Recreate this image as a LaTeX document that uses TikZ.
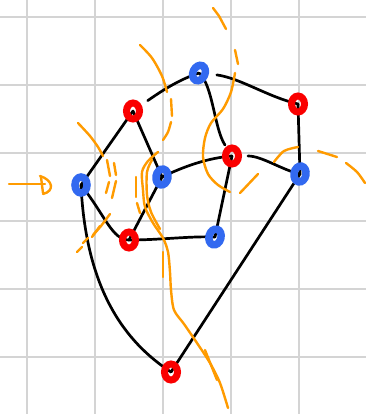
\documentclass[tikz,border=0pt]{standalone}
\usetikzlibrary{shapes.geometric}
\pgfdeclarelayer{gridlayer}
\pgfdeclarelayer{edgelayer}
\pgfsetlayers{gridlayer,edgelayer,main}
\definecolor{gridgray}{RGB}{212,212,212}
\definecolor{vred}{RGB}{250,0,0}
\definecolor{vblue}{RGB}{50,105,240}
\definecolor{sketchorange}{RGB}{255,155,0}
\begin{document}
\begin{tikzpicture}[x=1pt,y=-1pt,
  redv/.style={ellipse, draw=vred, line width=7pt, minimum width=13pt, minimum height=16pt, inner sep=0pt},
  bluev/.style={ellipse, draw=vblue, line width=7.5pt, minimum width=12pt, minimum height=16pt, inner sep=0pt},
  edgeline/.style={black, line width=2.7pt, line cap=round, line join=round},
  sk/.style={sketchorange, line width=2.4pt, line cap=round, line join=round},
  gridline/.style={gridgray, line width=2pt}]
\useasboundingbox (0,0) rectangle (366,414);
\begin{pgfonlayer}{gridlayer}
  \fill[white] (0,0) rectangle (366,414);
  \foreach \gx in {27,95,163,231,299} \draw[gridline] (\gx,0) -- (\gx,414);
  \foreach \gy in {17,85,153,221,289,357} \draw[gridline] (0,\gy) -- (366,\gy);
\end{pgfonlayer}

% vertices
\node[bluev]            (A) at (81,185) {};
\node[redv]             (B) at (133,111) {};
\node[bluev,rotate=-25] (C) at (199,73) {};
\node[redv]             (D) at (298,104) {};
\node[bluev,rotate=-10] (E) at (162,177) {};
\node[redv]             (F) at (232,156) {};
\node[bluev,rotate=-10] (G) at (300,174) {};
\node[redv]             (H) at (129,240) {};
\node[bluev,rotate=-15] (I) at (215,237) {};
\node[redv]             (J) at (171,372) {};

\begin{pgfonlayer}{edgelayer}
  % edges
  \draw[edgeline] (A.center) -- (B.center);
  \draw[edgeline, shorten <=18pt] (B.center) .. controls (160,92) and (178,80) .. (C.center);
  \draw[edgeline, shorten >=13pt] (C.center) .. controls (213,85) and (214,128) .. (F.center);
  \draw[edgeline, shorten <=8pt] (C.20) .. controls (240,78) and (268,97) .. (D.center);
  \draw[edgeline] (D.center) -- (G.center);
  \draw[edgeline, shorten <=16pt] (F.center) .. controls (262,156) and (282,170) .. (G.center);
  \draw[edgeline] (E.center) .. controls (185,166) and (208,158) .. (F.center);
  \draw[edgeline] (B.center) -- (E.center);
  \draw[edgeline] (E.center) -- (H.center);
  \draw[edgeline] (A.center) .. controls (105,215) and (112,240) .. (H.center);
  \draw[edgeline] (H.center) .. controls (160,240) and (190,236) .. (I.center);
  \draw[edgeline] (F.center) -- (I.center);
  \draw[edgeline] (G.center) -- (J.center);
  \draw[edgeline] (A.center) .. controls (86,290) and (125,342) .. (J.center);

  % orange sketch strokes
  \draw[sk] (9,184) -- (45,184);
  \draw[sk] (41,177) -- (43,193);
  \draw[sk] (40,176) .. controls (53,180) and (55,191) .. (43,194);

  \draw[sk] plot[smooth] coordinates {(140,45) (152,58) (162,76) (167,92)};
  \draw[sk] (171,99) -- (172,116);
  \draw[sk] plot[smooth] coordinates {(171,122) (168,132) (163,140)};

  \draw[sk] plot[smooth] coordinates {(158,152) (148,161) (142,172) (143,190) (145,207) (153,223) (163,238) (168,252) (170,272) (171,290) (174,310) (184,324) (197,343) (210,363) (220,383) (228,408)};
  \draw[sk] plot[smooth] coordinates {(152,160) (147,172) (147,195) (151,212) (160,229)};
  \draw[sk] (136,177) -- (136,197);
  \draw[sk] (137,203) -- (140,213);
  \draw[sk] (163,252) -- (163,277);
  \draw[sk] (205,350) -- (217,380);

  \draw[sk] (213,8) -- (219,16) -- (226,29);
  \draw[sk] (235,50) -- (238,64);
  \draw[sk] plot[smooth] coordinates {(235,73) (231,92) (223,109) (211,123) (205,138) (203,157) (208,174) (218,185) (230,192)};
  \draw[sk] (240,193) -- (258,174);

  \draw[sk] plot[smooth] coordinates {(274,162) (284,151) (298,147)};
  \draw[sk] (318,151) -- (337,157);
  \draw[sk] plot[smooth] coordinates {(346,163) (357,172) (365,183)};

  \draw[sk] plot[smooth] coordinates {(78,123) (90,136) (98,147) (103,156)};
  \draw[sk] (107,160) -- (110,176);
  \draw[sk] (109,182) -- (106,193);
  \draw[sk] (114,163) -- (116,175);
  \draw[sk] (116,181) -- (112,198);
  \draw[sk] plot[smooth] coordinates {(110,214) (101,226) (93,235)};
  \draw[sk] (100,226) -- (92,237);
  \draw[sk] (88,238) -- (83,243);
  \draw[sk] (82,247) -- (77,252);
\end{pgfonlayer}
\end{tikzpicture}
\end{document}
